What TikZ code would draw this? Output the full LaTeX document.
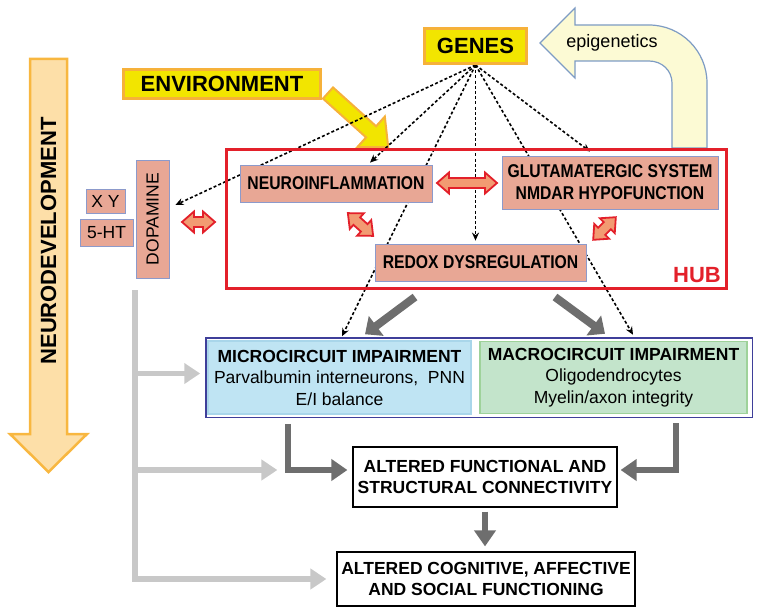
\documentclass[tikz,border=0pt]{standalone}
\usepackage{fontspec}
\setmainfont{Liberation Sans}
\newfontfamily\narrowfont[FakeStretch=0.85]{Liberation Sans}
\usepackage{xcolor}
\usetikzlibrary{arrows.meta,backgrounds}

\definecolor{salmon}{HTML}{E8A795}
\definecolor{boxedge}{HTML}{8C9ACB}
\definecolor{hubred}{HTML}{E3202A}
\definecolor{twowayfill}{HTML}{F29B72}
\definecolor{envyellow}{HTML}{F2E500}
\definecolor{envorange}{HTML}{F6B13A}
\definecolor{devfill}{HTML}{FDDFA8}
\definecolor{devedge}{HTML}{F8B740}
\definecolor{epifill}{HTML}{FCFAD4}
\definecolor{epiedge}{HTML}{7E9CC4}
\definecolor{microfill}{HTML}{BFE4F3}
\definecolor{microedge}{HTML}{A9D6EA}
\definecolor{macrofill}{HTML}{C3E4CB}
\definecolor{macroedge}{HTML}{9ED29A}
\definecolor{outeredge}{HTML}{3F3F9A}
\definecolor{paleline}{HTML}{C8C8C8}
\definecolor{darkline}{HTML}{6E6E6E}

\newcommand{\boxfont}{\fontsize{17.5}{21.5}\selectfont}
\newcommand{\hubfont}{\narrowfont\bfseries\fontsize{18.5}{22}\selectfont}
\newcommand{\bigfont}{\bfseries\fontsize{22}{26}\selectfont}

% double headed arrow: centre, angle, half length
\newcommand{\twoway}[3]{%
  \draw[twowayarrow, shift={#1}, rotate=#2]
    (-#3,0) -- (-#3+12,-10.5) -- (-#3+12,-5) -- (#3-12,-5) -- (#3-12,-10.5) -- (#3,0)
    -- (#3-12,10.5) -- (#3-12,5) -- (-#3+12,5) -- (-#3+12,10.5) -- cycle;}

\tikzset{
  yellowbox/.style={fill=envyellow, draw=envorange, line width=3pt, inner sep=0pt, font=\bigfont},
  hubbox/.style={fill=salmon, draw=boxedge, line width=0.8pt, inner sep=0pt, font=\hubfont, align=center},
  transbox/.style={fill=salmon, draw=boxedge, line width=0.8pt, inner sep=0pt, font=\boxfont},
  circuitbox/.style={line width=1.5pt, inner sep=0pt, font=\boxfont, align=center},
  outcomebox/.style={draw=black, line width=1.2pt, fill=white, inner sep=0pt, font=\boxfont\bfseries, align=center},
  twowayarrow/.style={fill=twowayfill, draw=hubred, line width=1.8pt, line join=miter},
  dotarrow/.style={dash pattern=on 3pt off 2.2pt, line width=1.6pt, -{Stealth[length=8pt,width=7pt]}},
  hubarrow/.style={draw=darkline, line width=8pt, -{Triangle[length=14pt,width=24pt]}},
  darkarrow/.style={draw=darkline, line width=5.5pt, -{Triangle[length=16pt,width=21pt]}},
  palearrow/.style={draw=paleline, line width=5.5pt, -{Triangle[length=16pt,width=20pt]}},
}

\begin{document}
\begin{tikzpicture}[x=1pt, y=-1pt]
  \useasboundingbox (0,0) rectangle (762,615);

  % top of the picture
  \node[yellowbox, minimum width=102pt, minimum height=35pt] (genes) at (475.5,46) {GENES};
  \node[yellowbox, minimum width=197pt, minimum height=29pt] (env) at (222,84) {ENVIRONMENT};
  \node[font=\fontsize{18}{22}\selectfont] (epi) at (612,43) {epigenetics};
  \node[font=\bigfont] (dev) at (48.5,241) {\rotatebox{90}{NEURODEVELOPMENT}};

  % the hub
  \node[draw=hubred, line width=3pt, minimum width=500pt, minimum height=139pt, inner sep=0pt] (hub) at (476.5,219) {};
  \node[font=\bigfont, text=hubred] (hublabel) at (697,275) {HUB};
  \node[hubbox, minimum width=192pt, minimum height=37pt] (neuro) at (336,183.5) {NEUROINFLAMMATION};
  \node[hubbox, minimum width=216pt, minimum height=53pt] (glut) at (610,182.5) {GLUTAMATERGIC SYSTEM\\NMDAR HYPOFUNCTION};
  \node[hubbox, minimum width=211pt, minimum height=37pt] (redox) at (480.5,262.5) {REDOX DYSREGULATION};

  % transmitters
  \node[transbox, minimum width=33pt, minimum height=118pt] (dopa) at (152.5,219) {\rotatebox{90}{DOPAMINE}};
  \node[transbox, minimum width=39pt, minimum height=24pt] (xy) at (105.5,201) {X Y};
  \node[transbox, minimum width=53pt, minimum height=27pt] (fiveht) at (106.5,232.5) {5-HT};

  % circuits
  \node[draw=outeredge, line width=1.5pt, minimum width=546.5pt, minimum height=79.5pt, inner sep=0pt] (outer) at (479,377.5) {};
  \node[circuitbox, fill=microfill, draw=microedge, minimum width=263pt, minimum height=73pt] (micro) at (339.5,377.5)
    {\textbf{MICROCIRCUIT IMPAIRMENT}\\Parvalbumin interneurons,~ PNN\\E/I balance};
  \node[circuitbox, fill=macrofill, draw=macroedge, minimum width=267pt, minimum height=72pt] (macro) at (613.5,377.5)
    {\textbf{MACROCIRCUIT IMPAIRMENT}\\Oligodendrocytes\\Myelin/axon integrity};

  % outcomes
  \node[outcomebox, minimum width=264pt, minimum height=60pt] (af) at (485,477) {ALTERED FUNCTIONAL AND\\STRUCTURAL CONNECTIVITY};
  \node[outcomebox, minimum width=298pt, minimum height=54pt] (ac) at (486,579) {ALTERED COGNITIVE, AFFECTIVE\\AND SOCIAL FUNCTIONING};

  \begin{scope}[on background layer]
    % neurodevelopment arrow
    \draw[fill=devfill, draw=devedge, line width=2.5pt]
      (30,59) -- (67,59) -- (67,434) -- (87,434) -- (48.5,472) -- (10,434) -- (30,434) -- cycle;
    % epigenetics arrow
    \draw[fill=epifill, draw=epiedge, line width=1.2pt]
      (540,43) -- (575,8) -- (575,25) -- (649,25) .. controls (681,25) and (707,51) .. (707,83)
      -- (707,148) -- (672,148) -- (672,83) .. controls (672,70.3) and (661.7,61) .. (649,61)
      -- (575,61) -- (575,78) -- cycle;
    % environment arrow
    \begin{scope}[shift={(328,93)}, rotate=-42]
      \draw[fill=envyellow, draw=envorange, line width=2pt]
        (0,-7.5) -- (58,-7.5) -- (58,-20.5) -- (81,0) -- (58,20.5) -- (58,7.5) -- (0,7.5) -- cycle;
    \end{scope}
    % genes
    \draw[dotarrow] (genes.south) -- ([xshift=6pt,yshift=14pt]dopa.east);
    \draw[dotarrow] (genes.south) -- ([xshift=34pt,yshift=2pt]neuro.north);
    \draw[dotarrow] (genes.south) -- ([xshift=2.5pt,yshift=4pt]micro.north);
    \draw[dotarrow, shorten >=3pt] (genes.south) -- (genes.south |- redox.north);
    \draw[dotarrow] (genes.south) -- ([xshift=-20pt,yshift=4pt]glut.north);
    \draw[dotarrow] (genes.south) -- ([xshift=19.5pt,yshift=6pt]macro.north);
  \end{scope}

  % interactions
  \twoway{(198.5,222)}{0}{16.5}
  \twoway{(467,183)}{0}{30}
  \twoway{(360.5,224.5)}{-42}{17}
  \twoway{(604.5,228.5)}{45}{16}

  % hub to circuits
  \draw[hubarrow] ([xshift=-61.5pt,yshift=-7pt]hub.south) -- ([xshift=25.5pt,yshift=6pt]micro.north);
  \draw[hubarrow] ([xshift=78.5pt,yshift=-7pt]hub.south) -- ([xshift=-8.5pt,yshift=7pt]macro.north);

  % circuits to outcomes
  \draw[darkarrow] ([xshift=-51.5pt,yshift=-9pt]micro.south) |- ([xshift=-5pt,yshift=7pt]af.west);
  \draw[darkarrow] ([xshift=62.5pt,yshift=-9pt]macro.south) |- ([xshift=3pt,yshift=7pt]af.east);
  \draw[darkarrow, shorten <=4pt, shorten >=5pt] (af.south) -- (af.south |- ac.north);

  % development line
  \coordinate (devtop) at (135,290);
  \draw[palearrow] (devtop) |- ([xshift=-10pt]ac.west);
  \draw[palearrow] (devtop |- micro.west) ++(0,-4) -- ([xshift=-7pt,yshift=4pt]micro.west);
  \draw[palearrow] (devtop |- af.west) ++(0,-7) -- ([xshift=-75pt,yshift=7pt]af.west);
\end{tikzpicture}
\end{document}
